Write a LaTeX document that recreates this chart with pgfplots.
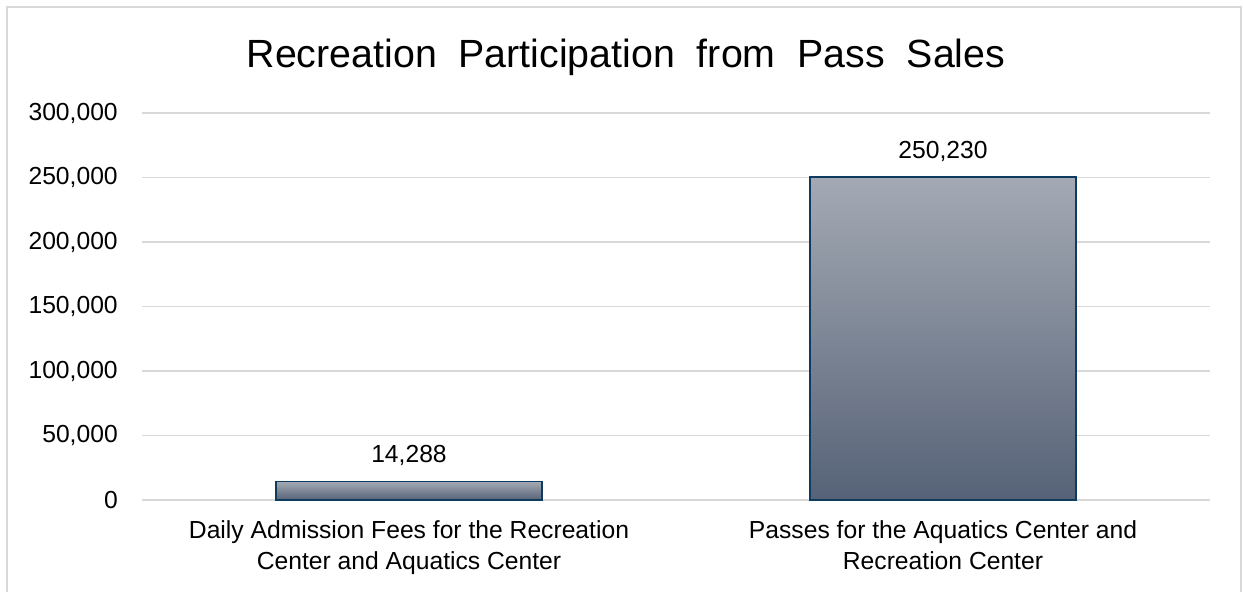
\documentclass[border=0pt]{standalone}
\usepackage{pgfplots}
\pgfplotsset{compat=1.18}
\usepackage{fontspec}
\setmainfont{Liberation Sans}
\definecolor{gridgray}{HTML}{D9D9D9}
\definecolor{bartop}{HTML}{A4AAB4}
\definecolor{barbot}{HTML}{566277}
\definecolor{baredge}{HTML}{0F3B5F}
\begin{document}
\begin{tikzpicture}
\path[use as bounding box, fill=white] (0,0) rectangle (932.25pt,444pt);
\draw[gridgray, line width=1.5pt] (5.25pt,-2pt) -- (5.25pt,438.75pt) -- (930.75pt,438.75pt) -- (930.75pt,-2pt);
\node[anchor=base, font=\fontsize{29.5}{34}\selectfont] at (469.5pt,393.5pt) {Recreation\ \ Participation\ \ from\ \ Pass\ \ Sales};
\begin{axis}[
  at={(106.5pt,69pt)}, anchor=south west,
  scale only axis, width=801pt, height=290.25pt,
  xmin=-0.5, xmax=1.5, ymin=0, ymax=300000,
  xtick={0,1},
  xticklabels={{Daily Admission Fees for the Recreation\\Center and Aquatics Center},{Passes for the Aquatics Center and\\Recreation Center}},
  xticklabel style={align=center, anchor=north, inner sep=0pt, yshift=-15pt, font=\fontsize{18.5}{23.25}\selectfont},
  ytick={0,50000,100000,150000,200000,250000,300000},
  yticklabel style={anchor=east, inner sep=0pt, xshift=-18pt, font=\fontsize{18.5}{20}\selectfont},
  scaled y ticks=false,
  /pgf/number format/.cd, fixed, 1000 sep={,}, assume math mode=true,
  /pgfplots/.cd,
  axis line style={draw=none},
  major tick style={draw=none},
  ymajorgrids, major grid style={gridgray, line width=1.1pt},
  nodes near coords,
  nodes near coords style={anchor=base, inner sep=0pt, yshift=14pt, font=\fontsize{18.5}{20}\selectfont, text=black},
  clip=false,
]
\addplot[ybar, bar width=199.5pt, bar shift=0pt, draw=baredge, line width=1.3pt, top color=bartop, bottom color=barbot] coordinates {(0,14288)};
\addplot[ybar, bar width=199.5pt, bar shift=0pt, draw=baredge, line width=1.3pt, top color=bartop, bottom color=barbot] coordinates {(1,250230)};
\end{axis}
\end{tikzpicture}
\end{document}
